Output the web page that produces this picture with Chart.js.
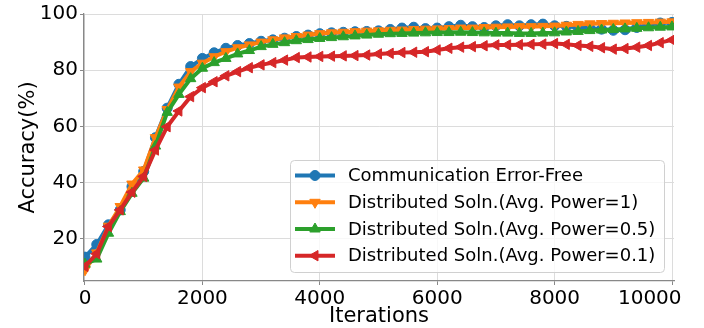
<!DOCTYPE html>
<html><head><meta charset="utf-8">
<script src="https://cdn.jsdelivr.net/npm/chart.js@4/dist/chart.umd.min.js"></script>
<style>html,body{margin:0;padding:0;background:#fff}#wrap{width:704px;height:328px}</style>
</head><body><div id="wrap"><canvas id="c" width="704" height="328"></canvas></div>
<script>
const iterations = [0,200,400,600,800,1000,1200,1400,1600,1800,2000,2200,2400,2600,2800,3000,3200,3400,3600,3800,4000,4200,4400,4600,4800,5000,5200,5400,5600,5800,6000,6200,6400,6600,6800,7000,7200,7400,7600,7800,8000,8200,8400,8600,8800,9000,9200,9400,9600,9800,10000];
const errorFree = [13.5,18,25,30.3,38.6,44,56,66.5,75,81.3,84.2,86.2,87.8,88.8,89.5,90.3,90.8,91.4,92,92.5,93,93.3,93.5,93.7,93.8,94,94.5,95,95.3,94.8,95,95.5,96,95.5,95.2,95.8,96.2,95.8,96.2,96.4,95.8,95.6,95.2,95,94.6,94.2,94.4,95.2,96.2,96.8,97];
const power1 = [9,15,24.5,31.5,39.5,44.5,56,66,74,79.5,82.5,84.8,86.6,88,89,90,90.8,91.5,92,92.5,93,93.3,93.5,93.7,93.9,94,94.2,94.3,94.5,94.6,94.7,94.8,95,95,95.2,95.3,95.4,95.5,95.5,95.6,95.7,96,96.3,96.5,96.6,96.7,96.8,96.9,97,97.1,97.2];
const power05 = [11,12.8,22,29.7,36.2,41.6,53,65,71.4,77,80.7,82.7,84.2,85.8,87,88.4,89.2,89.8,90.5,90.9,91.3,91.6,91.9,92.2,92.5,92.8,93,93.1,93.2,93.3,93.4,93.4,93.5,93.4,93.3,93.2,93.2,93.1,93.1,93.2,93.3,93.6,93.8,94.1,94.3,94.5,94.7,94.9,95.1,95.3,95.4];
const power01 = [10.2,14.7,24.4,30.3,36.6,42.2,51.6,59.9,65.5,70.6,73.8,75.9,78,79.5,80.9,81.9,82.7,83.6,84.5,84.7,84.9,85,85.1,85.2,85.4,85.8,86,86.3,86.4,86.6,87.2,87.8,88.2,88.4,88.7,89,89,89.1,89.2,89.3,89.5,89.2,88.8,88.5,88,87.5,87.7,88.2,88.8,89.8,90.8];
const seriesLabels = ['Communication Error-Free','Distributed Soln.(Avg. Power=1)','Distributed Soln.(Avg. Power=0.5)','Distributed Soln.(Avg. Power=0.1)'];
const seriesColors = ['#1f77b4','#ff7f0e','#2ca02c','#d62728'];
const xTicks = [0,2000,4000,6000,8000,10000];
const xTickLabels = ['0','2000','4000','6000','8000','10000'];
const yTicks = [20,40,60,80,100];

const FONT = "'DejaVu Sans', sans-serif";
const styles = [
  {pointStyle:'circle', rotation:0, radius:5},
  {pointStyle:'triangle', rotation:180, radius:6},
  {pointStyle:'triangle', rotation:0, radius:6},
  {pointStyle:'triangle', rotation:-90, radius:6}
];
const values = [errorFree, power1, power05, power01];

const datasets = values.map((vals, i) => ({
  label: seriesLabels[i],
  data: iterations.map((x, j) => ({x: x, y: vals[j]})),
  borderColor: seriesColors[i],
  backgroundColor: seriesColors[i],
  pointBackgroundColor: seriesColors[i],
  pointBorderColor: seriesColors[i],
  pointBorderWidth: 1,
  borderWidth: 4,
  pointStyle: styles[i].pointStyle,
  pointRotation: styles[i].rotation,
  pointRadius: styles[i].radius,
  tension: 0,
  order: 4 - i
}));

const legendPlugin = {
  id: 'boxLegend',
  afterDraw(chart) {
    const ctx = chart.ctx;
    const x0 = 290.5, y0 = 160.5, w = 374, h = 112, r = 4;
    ctx.save();
    ctx.beginPath();
    ctx.moveTo(x0 + r, y0);
    ctx.arcTo(x0 + w, y0, x0 + w, y0 + h, r);
    ctx.arcTo(x0 + w, y0 + h, x0, y0 + h, r);
    ctx.arcTo(x0, y0 + h, x0, y0, r);
    ctx.arcTo(x0, y0, x0 + w, y0, r);
    ctx.closePath();
    ctx.fillStyle = 'rgba(255,255,255,0.8)';
    ctx.fill();
    ctx.strokeStyle = '#d0d0d0';
    ctx.lineWidth = 1;
    ctx.stroke();
    const rowY = [175.5, 202.3, 229, 255.7];
    seriesLabels.forEach((lab, i) => {
      const y = rowY[i];
      ctx.strokeStyle = seriesColors[i];
      ctx.lineWidth = 4;
      ctx.beginPath();
      ctx.moveTo(295, y);
      ctx.lineTo(335, y);
      ctx.stroke();
      ctx.fillStyle = seriesColors[i];
      ctx.strokeStyle = seriesColors[i];
      ctx.lineWidth = 1;
      Chart.helpers.drawPoint(ctx, {pointStyle: styles[i].pointStyle, rotation: styles[i].rotation, radius: styles[i].radius, borderWidth: 1}, 315, y);
      ctx.fillStyle = '#000';
      ctx.font = '18px ' + FONT;
      ctx.textBaseline = 'middle';
      ctx.textAlign = 'left';
      ctx.fillText(lab, 348, y + 1);
    });
    ctx.restore();
  }
};

new Chart(document.getElementById('c'), {
  type: 'line',
  data: { datasets: datasets },
  options: {
    responsive: false,
    devicePixelRatio: 1,
    animation: false,
    layout: { padding: { top: 14, right: 30, left: 0, bottom: 0 } },
    plugins: { legend: { display: false }, tooltip: { enabled: false } },
    scales: {
      x: {
        type: 'linear', min: -17, max: 10034,
        afterBuildTicks: (axis) => { axis.ticks = xTicks.map(v => ({value: v})); },
        afterFit: (axis) => { axis.height = 47; axis.paddingRight = 0; axis.paddingLeft = 0; },
        ticks: { color: '#000', font: { family: FONT, size: 20 }, padding: 2, maxRotation: 0, autoSkip: false,
          callback: (v, idx) => idx === xTicks.length - 1 ? xTickLabels[idx] + '       ' : xTickLabels[idx] },
        grid: { color: '#dcdcdc', lineWidth: 1, tickColor: '#888', tickLength: 4 },
        border: { color: '#888', width: 1.3 },
        title: { display: true, text: 'Iterations', color: '#000', font: { family: FONT, size: 21 }, padding: { top: 0, bottom: -1 } }
      },
      y: {
        type: 'linear', min: 5, max: 100,
        afterBuildTicks: (axis) => { axis.ticks = yTicks.map(v => ({value: v})); },
        afterFit: (axis) => { axis.width = 84; },
        ticks: { color: '#000', font: { family: FONT, size: 20 }, padding: 2, callback: (v) => String(v) },
        grid: { color: '#dcdcdc', lineWidth: 1, tickColor: '#888', tickLength: 4 },
        border: { color: '#888', width: 1.3 },
        title: { display: true, text: 'Accuracy(%)', color: '#000', font: { family: FONT, size: 21 }, padding: { top: 16, bottom: 0 } }
      }
    }
  },
  plugins: [legendPlugin]
});
</script>
</body></html>
